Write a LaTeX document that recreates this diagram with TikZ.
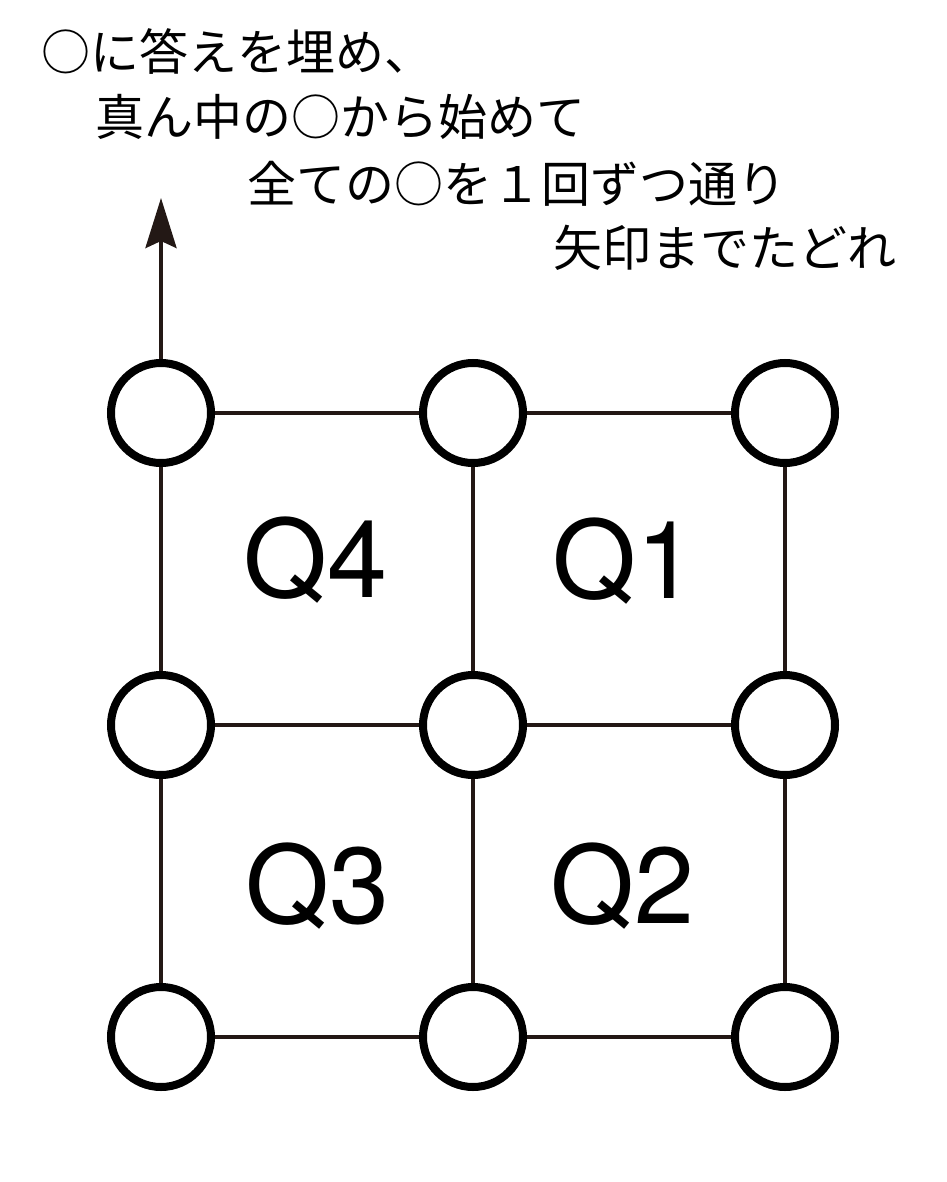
\documentclass[tikz,border=0pt]{standalone}
\usepackage{fontspec}
\setsansfont{TeX Gyre Heros}
\newfontfamily\jpfont{Noto Sans CJK JP}
\usetikzlibrary{arrows.meta}
\definecolor{ink}{HTML}{231815}
\begin{document}
\begin{tikzpicture}[x=1pt,y=-1pt,
  spot/.style={circle,draw=black,line width=8pt,minimum size=100pt,inner sep=0pt,fill=white},
  link/.style={draw=ink,line width=4pt},
  qlabel/.style={anchor=base west,inner sep=0pt,font=\sffamily\fontsize{108}{108}\selectfont},
  guide/.style={anchor=base west,inner sep=0pt,font=\jpfont\fontsize{49}{49}\selectfont}]
\useasboundingbox (0,0) rectangle (946,1182);
% instructions
\node[guide] (l1) at (41,71) {○に答えを埋め、};
\node[guide] (l2) at (95,136) {真ん中の○から始めて};
\node[guide] (l3) at (247,203) {全ての○を１回ずつ通り};
\node[guide] (l4) at (553,266) {矢印までたどれ};
% grid lines
\coordinate (tl) at (161,413);
\coordinate (tm) at (473,413);
\coordinate (tr) at (785,413);
\coordinate (ml) at (161,725);
\coordinate (mm) at (473,725);
\coordinate (mr) at (785,725);
\coordinate (bl) at (161,1037);
\coordinate (bm) at (473,1037);
\coordinate (br) at (785,1037);
\draw[link] (tl) -- (tr) (ml) -- (mr) (bl) -- (br);
\draw[link] (tl) -- (bl) (tm) -- (bm) (tr) -- (br);
% circles
\node[spot] (ctl) at (tl) {};
\node[spot] (ctm) at (tm) {};
\node[spot] (ctr) at (tr) {};
\node[spot] (cml) at (ml) {};
\node[spot] (cmm) at (mm) {};
\node[spot] (cmr) at (mr) {};
\node[spot] (cbl) at (bl) {};
\node[spot] (cbm) at (bm) {};
\node[spot] (cbr) at (br) {};
% exit arrow
\coordinate (goal) at (161,198);
\draw[ink,line width=4pt,-{Stealth[length=50pt,width=31pt,inset=7pt]}] (ctl.north) -- (goal);
% quadrant labels
\node[qlabel] (q4) at (243,597) {Q4};
\node[qlabel] (q1) at (552,598) {Q1};
\node[qlabel] (q3) at (245,923) {Q3};
\node[qlabel] (q2) at (550,923) {Q2};
\end{tikzpicture}
\end{document}
